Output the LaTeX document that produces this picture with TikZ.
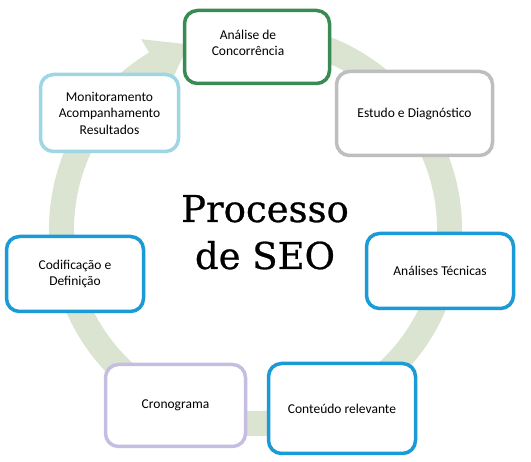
\documentclass[tikz,border=0pt]{standalone}
\usepackage{fontspec}
\setmainfont{Carlito}
\newfontfamily\titlefont[FakeBold=0.7]{DejaVu Serif}
\definecolor{ringcol}{RGB}{218,228,208}
\definecolor{greenb}{RGB}{58,138,84}
\definecolor{grayb}{RGB}{190,190,190}
\definecolor{lblueb}{RGB}{158,214,228}
\definecolor{blueb}{RGB}{26,154,214}
\definecolor{lavb}{RGB}{198,190,226}
\tikzset{
  box/.style={draw, line width=3.5pt, rounded corners=13pt, fill=white, align=center,
    font=\fontsize{13.5}{16.5}\selectfont, inner sep=0pt},
  lbl/.style={align=center, font=\fontsize{13.5}{16.5}\selectfont, inner sep=0pt},
  ttl/.style={font=\titlefont\fontsize{37}{47}\selectfont, anchor=base, inner sep=0pt}
}
\begin{document}
\begin{tikzpicture}[x=1pt,y=1pt]
\useasboundingbox (0,0) rectangle (531,462);
\coordinate (c) at (255.5,232.5);
% ring arrow
\draw[ringcol, line width=25pt] ([shift={(c)}]80:194) arc[start angle=80, end angle=-240, radius=194];
\fill[ringcol] ([shift={(c)}]121:167) -- ([shift={(c)}]121:222) -- ([shift={(c)}]110:197) -- cycle;
% title
\node[ttl] (t1) at (265,240) {Processo};
\node[ttl] (t2) at (265,193) {de SEO};
% boxes
\node[box, draw=greenb, minimum width=145pt, minimum height=73pt] (b1) at (257,415) {};
\node[lbl] (l1) at (248,419) {Análise de\\Concorrência};
\node[box, draw=grayb, minimum width=156pt, minimum height=84pt] (b2) at (414.5,348.5) {Estudo e Diagnóstico};
\node[box, draw=lblueb, minimum width=138pt, minimum height=77pt] (b3) at (109.5,349) {Monitoramento\\Acompanhamento\\Resultados};
\node[box, draw=blueb, minimum width=137pt, minimum height=75pt] (b4) at (75,188) {Codificação e\\Definição};
\node[box, draw=blueb, minimum width=147pt, minimum height=75pt] (b5) at (440,191) {Análises Técnicas};
\node[box, draw=lavb, minimum width=140pt, minimum height=82pt] (b6) at (175.5,56.5) {Cronograma};
\node[box, draw=blueb, minimum width=147pt, minimum height=90pt] (b7) at (342,53.5) {Conteúdo relevante};
\end{tikzpicture}
\end{document}
